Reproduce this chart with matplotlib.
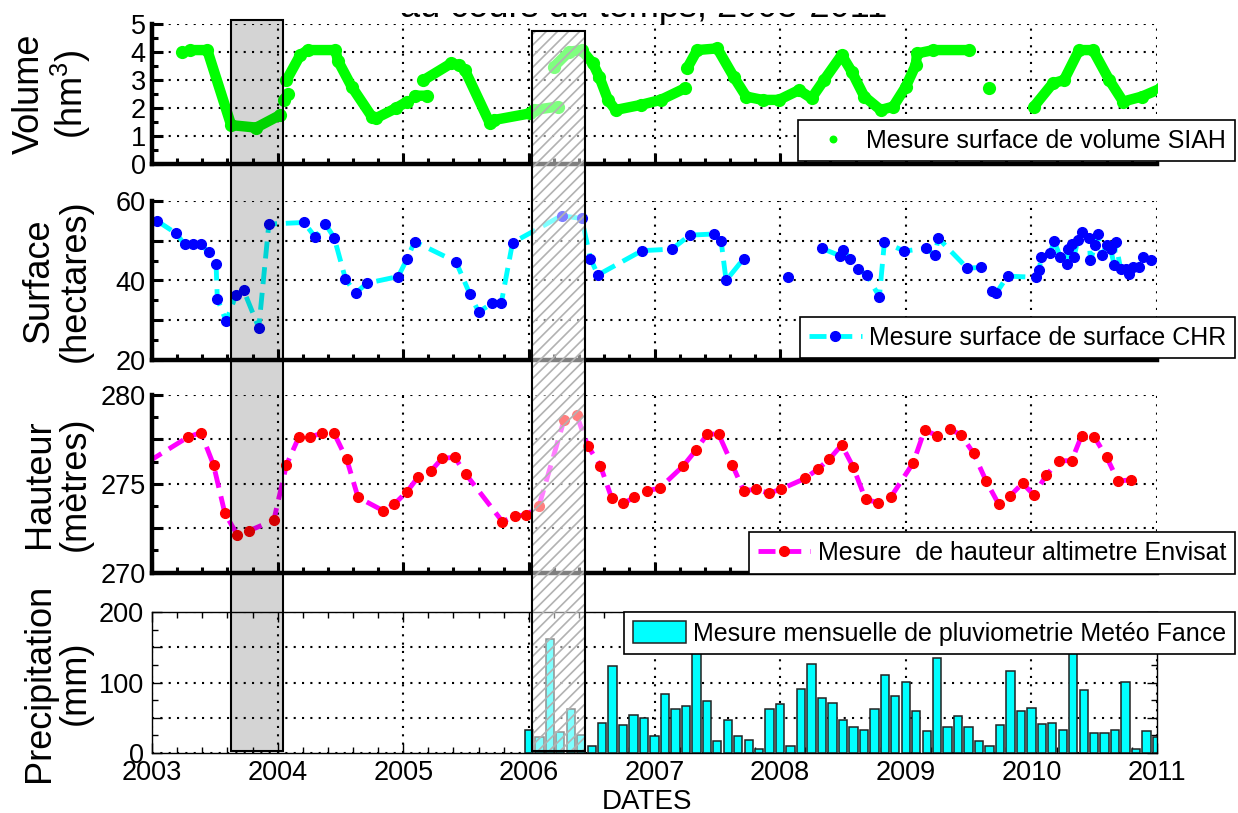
import numpy as np
import pandas as pd
import matplotlib
matplotlib.use("Agg")
import matplotlib.pyplot as plt
from matplotlib.patches import Rectangle
from matplotlib.ticker import MultipleLocator, FuncFormatter

plt.rcParams['font.family'] = ['Liberation Sans', 'DejaVu Sans']
plt.rcParams['mathtext.fontset'] = 'custom'
plt.rcParams['mathtext.rm'] = 'Liberation Sans'
plt.rcParams['hatch.linewidth'] = 1.2

nan = np.nan

# %% Volume SIAH (hm3) -- nan = trou dans la serie
vol_date = [2003.24, nan,
            2003.30, 2003.44, 2003.63, 2003.83, 2004.02, nan,
            2004.05, 2004.08, nan,
            2004.07, 2004.18, 2004.24, 2004.46, 2004.48, 2004.59, 2004.75, 2004.78, 2004.94, 2005.03, nan,
            2005.09, 2005.19, nan,
            2005.16, 2005.38, 2005.44, 2005.49, 2005.69, 2005.72, 2006.01, 2006.04, 2006.23, nan,
            2006.20, 2006.32, 2006.42, 2006.51, 2006.56, 2006.63, 2006.69, 2006.89, 2007.05, 2007.24, nan,
            2007.26, 2007.34, 2007.50, 2007.63, 2007.73, 2007.86, 2007.99, 2008.15, 2008.25, 2008.35,
            2008.49, 2008.57, 2008.67, 2008.80, 2008.90, 2009.00, 2009.08, 2009.09, 2009.22, 2009.50, nan,
            2009.66, nan,
            2010.02, 2010.17, 2010.26, 2010.38, 2010.49, 2010.62, 2010.73, 2010.88, 2011.03]
vol_hm3 = [4.02, nan,
           4.08, 4.08, 1.40, 1.31, 1.76, nan,
           2.30, 2.50, nan,
           3.00, 3.90, 4.08, 4.08, 3.70, 2.77, 1.70, 1.64, 2.00, 2.24, nan,
           2.45, 2.45, nan,
           3.00, 3.60, 3.55, 3.37, 1.46, 1.58, 1.82, 1.94, 2.06, nan,
           3.49, 4.02, 4.08, 3.60, 3.13, 2.30, 1.94, 2.12, 2.30, 2.71, nan,
           3.43, 4.08, 4.14, 3.13, 2.42, 2.30, 2.30, 2.65, 2.36, 3.01,
           3.90, 3.31, 2.42, 1.94, 2.06, 2.77, 3.55, 3.96, 4.08, 4.08, nan,
           2.74, nan,
           2.06, 2.89, 3.01, 4.08, 4.08, 3.01, 2.24, 2.42, 2.71]

# %% Surface CHR (hectares)
surf_date = [2003.04, 2003.19, 2003.26, 2003.33, 2003.39, 2003.45, 2003.51, 2003.52, 2003.59, 2003.67,
             2003.73, 2003.85, 2003.93, 2004.21, 2004.30, 2004.38, 2004.45, 2004.54, 2004.62, 2004.71,
             2004.96, 2005.03, 2005.09, 2005.42, 2005.53, 2005.60, 2005.71, 2005.78, 2005.87, 2006.26,
             2006.42, 2006.49, 2006.55, 2006.90, 2007.14, 2007.28, 2007.47, 2007.53, 2007.57, 2007.71, nan,
             2008.06, nan,
             2008.33, 2008.48, 2008.50, 2008.56, 2008.62, 2008.69, 2008.79, 2008.83, 2008.99, 2009.16,
             2009.23, 2009.26, 2009.49, 2009.60, nan,
             2009.69, 2009.72, 2009.81, 2010.04, 2010.06, 2010.08, 2010.15, 2010.18, 2010.23, 2010.28,
             2010.29, 2010.32, 2010.34, 2010.37, 2010.40, 2010.46, 2010.47, 2010.51, 2010.53, 2010.56,
             2010.60, 2010.63, 2010.66, 2010.67, 2010.71, 2010.75, 2010.78, 2010.81, 2010.86, 2010.89, 2010.95]
surf_ha = [55.0, 51.9, 49.1, 49.1, 49.1, 47.1, 44.1, 35.4, 29.8, 36.4,
           37.5, 28.1, 54.2, 54.6, 50.9, 54.2, 50.8, 40.4, 36.8, 39.3,
           41.0, 45.4, 49.8, 44.7, 36.6, 32.1, 34.3, 34.3, 49.5, 56.3,
           55.6, 45.5, 41.4, 47.5, 47.9, 51.4, 51.7, 50.0, 40.0, 45.5, nan,
           41.0, nan,
           48.1, 46.2, 47.7, 45.4, 42.8, 41.4, 35.9, 49.6, 47.4, 48.1,
           46.4, 50.6, 43.1, 43.3, nan,
           37.4, 36.8, 41.1, 40.8, 42.6, 45.8, 46.8, 50.0, 46.0, 44.2,
           47.8, 49.1, 46.0, 50.2, 52.3, 50.6, 45.2, 48.9, 51.6, 46.4,
           48.9, 48.0, 43.8, 49.7, 43.0, 43.0, 41.6, 43.5, 43.5, 46.0, 45.2]

# %% Hauteur altimetre Envisat (metres)
haut_date = [2002.96, 2003.29, 2003.39, 2003.49, 2003.58, 2003.68, 2003.77, 2003.97, 2004.07, 2004.17,
             2004.26, 2004.35, 2004.45, 2004.55, 2004.64, 2004.84, 2004.93, 2005.03, 2005.12, 2005.22,
             2005.31, 2005.41, 2005.50, 2005.79, 2005.89, 2005.98, 2006.08, 2006.28, 2006.38, 2006.47,
             2006.57, 2006.66, 2006.75, 2006.84, 2006.94, 2007.04, 2007.23, 2007.33, 2007.42, 2007.51,
             2007.62, 2007.71, 2007.81, 2007.91, 2008.01, 2008.20, 2008.30, 2008.39, 2008.49, 2008.58,
             2008.68, 2008.78, 2008.88, 2009.06, 2009.15, 2009.25, 2009.35, 2009.44, 2009.54, 2009.64,
             2009.74, 2009.83, 2009.93, 2010.02, 2010.12, 2010.22, 2010.32, 2010.40, 2010.50, 2010.60,
             2010.69, 2010.79]
haut_m = [276.2, 277.65, 277.88, 276.06, 273.34, 272.12, 272.35, 272.96, 276.06, 277.65,
          277.65, 277.84, 277.84, 276.38, 274.24, 273.49, 273.87, 274.56, 275.40, 275.72,
          276.44, 276.49, 275.53, 272.87, 273.19, 273.25, 273.75, 278.59, 278.87, 277.13,
          276.00, 274.18, 273.90, 274.24, 274.62, 274.75, 276.02, 276.90, 277.80, 277.80,
          276.06, 274.62, 274.69, 274.47, 274.71, 275.31, 275.83, 276.38, 277.19, 275.97,
          274.13, 273.94, 274.24, 276.19, 278.03, 277.71, 278.09, 277.75, 276.72, 275.16,
          273.85, 274.32, 275.03, 274.37, 275.50, 276.30, 276.30, 277.71, 277.65, 276.49,
          275.16, 275.22]

# %% Pluviometrie mensuelle Meteo France (mm), janv. 2006 -> janv. 2011
pluie_mois = pd.date_range('2006-01-01', '2011-01-01', freq='MS')
pluie_mm = [33, 22, 162, 29, 62, 25, 10, 43, 124, 39, 53, 50,
            24, 83, 62, 66, 175, 74, 16, 47, 24, 18, 5, 62,
            70, 9, 91, 126, 78, 71, 46, 37, 33, 62, 111, 81,
            101, 60, 31, 135, 37, 52, 37, 16, 10, 39, 116, 60,
            63, 41, 43, 33, 165, 90, 28, 28, 33, 101, 5, 31,
            22]
pluie_date = pluie_mois.year + (pluie_mois.month - 1) / 12

# %% Figure
W, H = 1238, 813
fig = plt.figure(figsize=(W / 100, H / 100), dpi=100)
left, width = 152 / W, 1005 / W
ax1 = fig.add_axes([left, 1 - 164.3 / H, width, 140 / H])
ax2 = fig.add_axes([left, 1 - 360 / H, width, 159 / H])
ax3 = fig.add_axes([left, 1 - 572.7 / H, width, 177.7 / H])
ax4 = fig.add_axes([left, 1 - 752.7 / H, width, 140.4 / H])

grid_kw = dict(color='black', linestyle=(0, (1, 3)), linewidth=1.5)


def only(labels):
    return FuncFormatter(lambda v, p: f'{v:g}' if any(abs(v - l) < 1e-6 for l in labels) else '')


def style_haut(ax, ylim, major, minor, labels):
    ax.set_xlim(2003, 2011)
    ax.set_ylim(*ylim)
    for s in ['top', 'right']:
        ax.spines[s].set_visible(False)
    for s in ['left', 'bottom']:
        ax.spines[s].set_linewidth(3.2)
    ax.xaxis.set_major_locator(MultipleLocator(1))
    ax.xaxis.set_minor_locator(MultipleLocator(0.2))
    ax.yaxis.set_major_locator(MultipleLocator(major))
    ax.yaxis.set_minor_locator(MultipleLocator(minor))
    ax.yaxis.set_major_formatter(only(labels))
    ax.tick_params(which='both', direction='in', top=False, right=False, labelbottom=False, width=2.2)
    ax.tick_params(which='major', length=8)
    ax.tick_params(which='minor', length=4)
    ax.tick_params(axis='y', labelsize=19.5, pad=4.5)
    ax.grid(True, which='major', **grid_kw)


def legende(ax, top_px, **kw):
    leg = ax.legend(loc='upper right', bbox_to_anchor=(1235 / W, 1 - top_px / H),
                    bbox_transform=fig.transFigure, fontsize=18, frameon=True, fancybox=False,
                    framealpha=1, edgecolor='black', borderaxespad=0, borderpad=0.35,
                    handlelength=2.1, handletextpad=0.3, **kw)
    leg.get_frame().set_linewidth(1.2)
    return leg


# Volume
ax1.plot(vol_date, vol_hm3, '-', color='#00ff00', lw=7.5, solid_capstyle='round', solid_joinstyle='round')
ax1.plot(vol_date, vol_hm3, 'o', color='#00ff00', ms=9.5, mec='none', label='Mesure surface de volume SIAH')
style_haut(ax1, (0, 5), 1, 0.5, [0, 1, 2, 3, 4, 5])
ax1.set_ylabel('Volume\n(hm$^{3}$)', fontsize=26, linespacing=1.05)
legende(ax1, 120, markerscale=0.6)

# Surface
ax2.plot(surf_date, surf_ha, linestyle=(0, (3.5, 1.8)), color='#00ffff', lw=3.5, marker='o',
         mfc='#0000ff', mec='#0000ff', ms=7, label='Mesure surface de surface CHR')
style_haut(ax2, (20, 60), 10, 5, [20, 40, 60])
ax2.set_ylabel('Surface\n(hectares)', fontsize=26, linespacing=1.05)
legende(ax2, 317)

# Hauteur
ax3.plot(haut_date, haut_m, linestyle=(0, (3.5, 1.8)), color='#ff00ff', lw=3.5, marker='o',
         mfc='#ff0000', mec='#ff0000', ms=7, label='Mesure  de hauteur altimetre Envisat')
style_haut(ax3, (270, 280), 2.5, 1.25, [270, 275, 280])
ax3.set_ylabel('Hauteur\n(mètres)', fontsize=26, linespacing=1.05)
legende(ax3, 532)

# Precipitation
ax4.bar(pluie_date, pluie_mm, width=0.8 / 12, color='#00ffff', edgecolor='#222222', linewidth=1.1,
        label='Mesure mensuelle de pluviometrie Metéo Fance')
ax4.set_xlim(2003, 2011)
ax4.set_ylim(0, 200)
ax4.set_axisbelow(True)
for s in ax4.spines.values():
    s.set_linewidth(1.0)
ax4.xaxis.set_major_locator(MultipleLocator(1))
ax4.xaxis.set_minor_locator(MultipleLocator(0.2))
ax4.yaxis.set_major_locator(MultipleLocator(50))
ax4.yaxis.set_minor_locator(MultipleLocator(25))
ax4.yaxis.set_major_formatter(only([0, 100, 200]))
ax4.xaxis.set_major_formatter(FuncFormatter(lambda v, p: f'{v:.0f}'))
ax4.tick_params(which='both', direction='in', top=True, right=True, width=1)
ax4.tick_params(which='major', length=7)
ax4.tick_params(which='minor', length=4)
ax4.tick_params(axis='y', labelsize=19.5, pad=6)
ax4.tick_params(axis='x', labelsize=19.5, pad=5)
ax4.grid(True, which='major', **grid_kw)
ax4.set_ylabel('Precipitation\n(mm)', fontsize=26, linespacing=1.05)
ax4.set_xlabel('DATES', fontsize=20)
ax4.xaxis.set_label_coords(0.4925, -0.26)
legende(ax4, 612, handleheight=1.0)

for ax in [ax1, ax2, ax3, ax4]:
    ax.yaxis.set_label_coords(-0.0587, 0.5)


# %% Periodes mises en evidence (rectangles sur toute la hauteur)
def fig_xy(ax, x, y):
    return fig.transFigure.inverted().transform(ax.transData.transform((x, y)))


g0, g_top = fig_xy(ax1, 2003.625, 5.14)
g1, g_bot = fig_xy(ax4, 2004.04, 2)
fig.add_artist(Rectangle((g0, g_bot), g1 - g0, g_top - g_bot, transform=fig.transFigure,
                         facecolor=(0, 0, 0, 0.17), edgecolor='black', lw=1.5, zorder=5))

h0, h_top = fig_xy(ax1, 2006.024, 4.76)
h1, h_bot = fig_xy(ax4, 2006.443, 2)
fig.add_artist(Rectangle((h0, h_bot), h1 - h0, h_top - h_bot, transform=fig.transFigure,
                         facecolor=(1, 1, 1, 0.5), edgecolor='#b2b2b2', hatch='///', lw=0, zorder=5))
fig.add_artist(Rectangle((h0, h_bot), h1 - h0, h_top - h_bot, transform=fig.transFigure,
                         fill=False, edgecolor='black', lw=1.5, zorder=6))

# titre (coupe en haut de l'image d'origine)
fig.text(0.52, 1 - 17 / H, 'au cours du temps, 2003-2011', ha='center', va='baseline',
         fontsize=26, zorder=2)
fig.add_artist(Rectangle((0, 1 - 13.5 / H), 1, 13.5 / H, transform=fig.transFigure,
                         facecolor='white', edgecolor='none', zorder=20))

fig.savefig('out.png', dpi=100)
